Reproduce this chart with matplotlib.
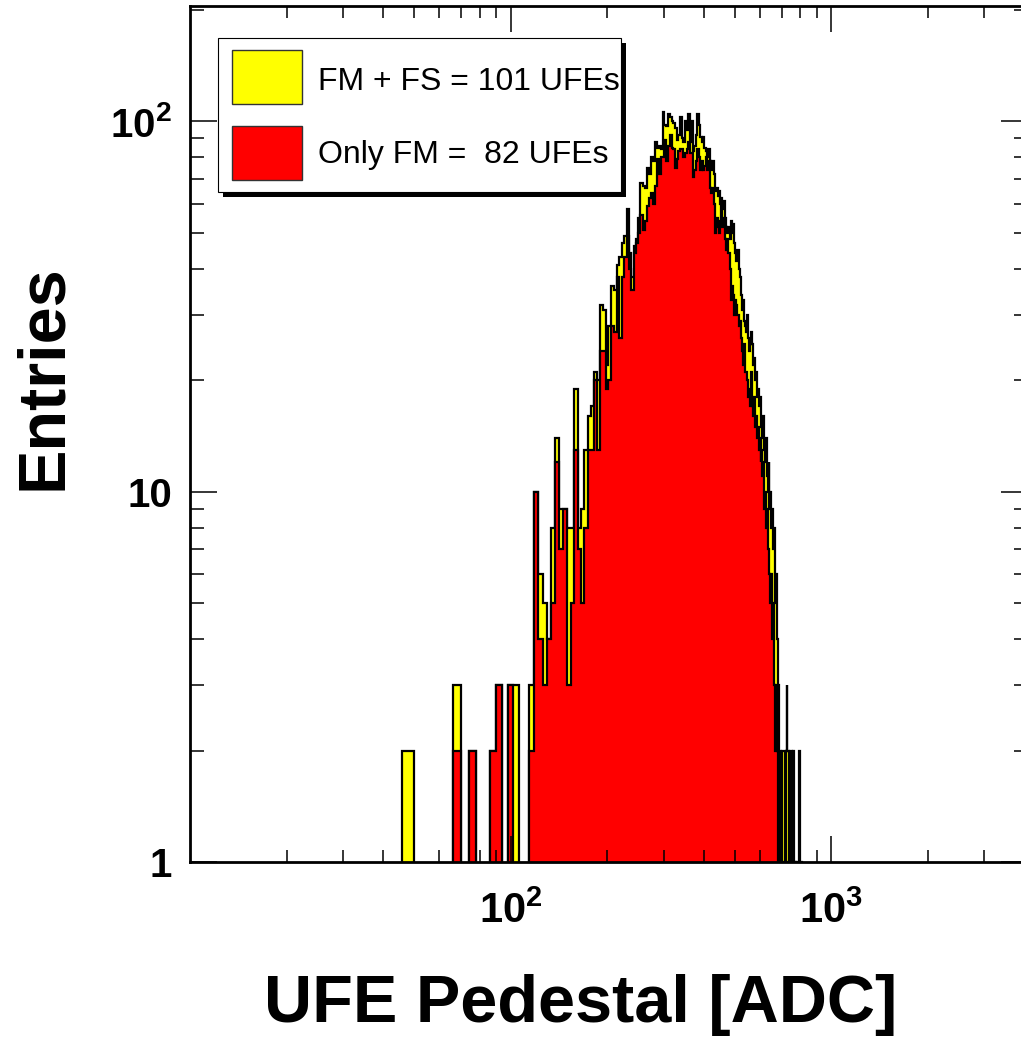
import numpy as np
import matplotlib
matplotlib.use('Agg')
import matplotlib.pyplot as plt
from matplotlib.patches import Rectangle
from matplotlib.ticker import FixedLocator, FixedFormatter, LogLocator, NullFormatter

plt.rcParams['font.family'] = ['Liberation Sans', 'DejaVu Sans']
plt.rcParams['mathtext.fontset'] = 'custom'
plt.rcParams['mathtext.rm'] = 'Liberation Sans'
plt.rcParams['mathtext.bf'] = 'Liberation Sans:bold'

# histogram bins: 4 ADC wide, centred on multiples of 4
bin_centres = np.arange(48, 812, 4)
edges = np.append(bin_centres - 2, bin_centres[-1] + 2)

# FM + FS (yellow)
fm_fs = [
    2, 0, 0, 0, 0, 3, 0, 2, 0, 0,
    2, 3, 0, 3, 3, 0, 0, 3, 10, 6,
    5, 4, 8, 14, 9, 9, 8, 8, 19, 8,
    9, 13, 16, 17, 21, 20, 32, 31, 22, 28,
    36, 35, 41, 43, 47, 49, 58, 44, 38, 46,
    48, 55, 68, 67, 66, 75, 72, 80, 78, 88,
    85, 86, 84, 106, 98, 97, 105, 103, 100, 99,
    96, 89, 92, 103, 90, 88, 100, 95, 105, 88,
    100, 83, 86, 92, 105, 98, 91, 88, 91, 85,
    83, 80, 84, 78, 74, 78, 72, 65, 66, 63,
    65, 60, 62, 58, 61, 55, 52, 50, 52, 48,
    54, 50, 53, 47, 44, 42, 45, 40, 38, 34,
    31, 33, 29, 28, 27, 30, 26, 24, 25, 27,
    25, 22, 23, 20, 21, 18, 19, 17, 18, 16,
    15, 14, 16, 13, 12, 14, 11, 10, 12, 9,
    10, 8, 9, 7, 8, 6, 5, 6, 4, 3,
    2, 2, 2, 1, 2, 2, 2, 2, 1, 2,
    3, 2, 2, 1, 2, 2, 2, 1, 2, 2,
    1, 1, 0, 1, 1, 1, 1, 2, 2, 1,
    1,
]

# only FM (red)
fm_only = [
    0, 0, 0, 0, 0, 2, 0, 2, 0, 0,
    2, 3, 0, 3, 0, 0, 0, 2, 10, 4,
    3, 4, 5, 12, 7, 9, 3, 5, 13, 7,
    5, 8, 13, 13, 20, 13, 24, 24, 19, 20,
    28, 27, 38, 26, 38, 43, 49, 40, 35, 44,
    47, 50, 56, 51, 54, 59, 62, 64, 60, 67,
    79, 72, 80, 80, 89, 78, 86, 92, 85, 84,
    75, 79, 83, 84, 84, 80, 82, 84, 88, 82,
    82, 71, 74, 78, 84, 80, 74, 78, 74, 76,
    80, 74, 78, 66, 64, 66, 60, 50, 55, 52,
    50, 54, 61, 52, 55, 48, 45, 48, 44, 40,
    33, 36, 34, 30, 33, 32, 30, 28, 29, 26,
    24, 22, 25, 21, 21, 20, 18, 19, 17, 21,
    17, 16, 18, 15, 16, 14, 15, 13, 14, 12,
    13, 11, 12, 9, 10, 8, 9, 7, 6, 6,
    5, 6, 4, 5, 3, 3, 2, 3, 2, 1,
    1, 2, 1, 1, 0, 1, 1, 0, 1, 0,
    1, 0, 1, 0, 0, 1, 0, 0, 1, 0,
    0, 0, 0, 0, 0, 0, 0, 0, 0, 0,
    0,
]

legend_labels = ['FM + FS = 101 UFEs', 'Only FM =  82 UFEs']
legend_colours = ['#ffff00', '#ff0000']

W, H = 1021, 1037


def fx(px):
    return px / W


def fy(py):
    return 1 - py / H


fig = plt.figure(figsize=(W / 100, H / 100), dpi=100)
ax = fig.add_axes([fx(190), fy(862), (1027.5 - 190) / W, (862 - 6) / H])


def draw_hist(counts, colour):
    c = np.array(counts, dtype=float)
    c[c <= 0] = 0.1
    ax.stairs(c, edges, baseline=0.1, fill=True, facecolor=colour,
              edgecolor='black', linewidth=1.6)


draw_hist(fm_fs, legend_colours[0])
draw_hist(fm_only, legend_colours[1])

ax.set_xscale('log')
ax.set_yscale('log')
ax.set_xlim(10, 4096)
ax.set_ylim(1, 205)

ax.xaxis.set_major_locator(FixedLocator([100, 1000]))
ax.xaxis.set_major_formatter(FixedFormatter([r'$\mathbf{10^{2}}$', r'$\mathbf{10^{3}}$']))
ax.xaxis.set_minor_locator(LogLocator(base=10, subs=np.arange(2, 10)))
ax.xaxis.set_minor_formatter(NullFormatter())
ax.yaxis.set_major_locator(FixedLocator([1, 10, 100]))
ax.yaxis.set_major_formatter(FixedFormatter(['1', '10', r'$\mathbf{10^{2}}$']))
ax.yaxis.set_minor_locator(LogLocator(base=10, subs=np.arange(2, 10)))
ax.yaxis.set_minor_formatter(NullFormatter())

ax.tick_params(which='both', direction='in', top=True, right=True, width=1.1)
ax.tick_params(axis='x', which='major', length=18.5, pad=21, labelsize=30)
ax.tick_params(axis='x', which='minor', length=8.6)
ax.tick_params(axis='y', which='major', length=19.4, pad=13, labelsize=29)
ax.tick_params(axis='y', which='minor', length=10)
for lab in ax.get_xticklabels() + ax.get_yticklabels():
    lab.set_fontweight('bold')
for sp in ax.spines.values():
    sp.set_linewidth(2.0)

# axis titles
fig.text(fx(44), fy(377), 'Entries', rotation=90, ha='center', va='center',
         fontsize=48, fontweight='bold')
fig.text(fx(581), fy(1022), 'UFE Pedestal [ADC]', ha='center', va='baseline',
         fontsize=48, fontweight='bold')

# legend box with shadow
fig.add_artist(Rectangle((fx(223), fy(197)), (626 - 223) / W, (197 - 43) / H,
                         transform=fig.transFigure, facecolor='black', edgecolor='none'))
fig.add_artist(Rectangle((fx(218), fy(192)), (621 - 218) / W, (192 - 38) / H,
                         transform=fig.transFigure, facecolor='white',
                         edgecolor='black', linewidth=0.8))
box_tops = [50, 126]
text_base = [90, 163]
for top, base, lab, col in zip(box_tops, text_base, legend_labels, legend_colours):
    fig.add_artist(Rectangle((fx(232), fy(top + 54)), 70 / W, 54 / H,
                             transform=fig.transFigure, facecolor=col,
                             edgecolor='#333333', linewidth=1.0))
    fig.text(fx(318), fy(base), lab, ha='left', va='baseline', fontsize=23)

fig.savefig('out.png', dpi=100)
plt.close(fig)
